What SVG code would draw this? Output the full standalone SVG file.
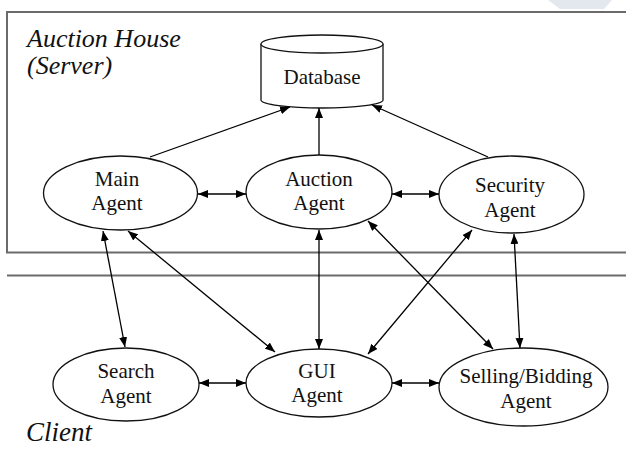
<svg xmlns="http://www.w3.org/2000/svg" width="626" height="454" viewBox="0 0 626 454">
<defs>
<marker id="ah" viewBox="0 0 10 8" refX="10" refY="4" markerWidth="10" markerHeight="8" markerUnits="userSpaceOnUse" orient="auto-start-reverse">
<path d="M0,0 L10,4 L0,8 z" fill="#000"/>
</marker>
<style>
.frame{stroke:#6b6b6b;stroke-width:2;fill:none}
.node{fill:#fff;stroke:#111;stroke-width:1.3}
.lbl{font-family:"Liberation Serif","Times New Roman",serif;font-size:21px;fill:#111;text-anchor:middle}
.area{font-family:"Liberation Serif","Times New Roman",serif;font-size:26px;font-style:italic;fill:#111}
.c{stroke:#000;stroke-width:1.3;fill:none}
.one{marker-end:url(#ah)}
.two{marker-start:url(#ah);marker-end:url(#ah)}
</style>
</defs>
<rect width="626" height="454" fill="#fff"/>
<path d="M548,0 L612,0 L604,9 L560,9 Z" fill="#e3e8ee"/>
<g id="frames">
<path class="frame" d="M626,12 L7,12 L7,252.5 L626,252.5"/>
<line class="frame" x1="7" y1="275.5" x2="626" y2="275.5"/>
</g>
<text class="area" x="27" y="47">Auction House</text>
<text class="area" x="27" y="74">(Server)</text>
<text class="area" x="26" y="441" style="font-size:27px">Client</text>
<g id="database">
<path class="node" d="M261,44 L261,100 A61,8 0 0 0 383,100 L383,44"/>
<ellipse class="node" cx="322" cy="44" rx="61" ry="9"/>
<text class="lbl" x="322" y="84">Database</text>
</g>
<g id="main-agent">
<ellipse class="node" cx="120.5" cy="193" rx="77" ry="37"/>
<text class="lbl" x="117" y="186">Main</text>
<text class="lbl" x="117" y="210">Agent</text>
</g>
<g id="auction-agent">
<ellipse class="node" cx="319" cy="192" rx="73" ry="37"/>
<text class="lbl" x="319" y="186">Auction</text>
<text class="lbl" x="319" y="210">Agent</text>
</g>
<g id="security-agent">
<ellipse class="node" cx="511.5" cy="194.5" rx="72.5" ry="38.5"/>
<text class="lbl" x="510" y="192">Security</text>
<text class="lbl" x="510" y="217">Agent</text>
</g>
<g id="search-agent">
<ellipse class="node" cx="126" cy="384.5" rx="73" ry="36.5"/>
<text class="lbl" x="126" y="378">Search</text>
<text class="lbl" x="126" y="403">Agent</text>
</g>
<g id="gui-agent">
<ellipse class="node" cx="319" cy="383" rx="73" ry="34"/>
<text class="lbl" x="317" y="378">GUI</text>
<text class="lbl" x="317" y="402">Agent</text>
</g>
<g id="selling-bidding-agent">
<ellipse class="node" cx="523.5" cy="387" rx="84.5" ry="39"/>
<text class="lbl" x="526" y="383">Selling/Bidding</text>
<text class="lbl" x="526" y="408">Agent</text>
</g>
<g id="connectors">
<line class="c one" x1="150" y1="157" x2="290" y2="107"/>
<line class="c one" x1="319" y1="155" x2="319" y2="108"/>
<line class="c one" x1="488" y1="157" x2="372" y2="105"/>
<line class="c two" x1="198" y1="194" x2="246" y2="194"/>
<line class="c two" x1="392" y1="194" x2="439" y2="194"/>
<line class="c two" x1="103" y1="231" x2="125" y2="347"/>
<line class="c two" x1="128" y1="231" x2="275" y2="352"/>
<line class="c two" x1="319" y1="230" x2="319" y2="349"/>
<line class="c two" x1="368" y1="221" x2="493" y2="349"/>
<line class="c two" x1="472" y1="230" x2="368" y2="354"/>
<line class="c two" x1="514" y1="234" x2="520" y2="348"/>
<line class="c two" x1="199" y1="383" x2="246" y2="383"/>
<line class="c two" x1="392" y1="383" x2="439" y2="383"/>
</g>
</svg>
